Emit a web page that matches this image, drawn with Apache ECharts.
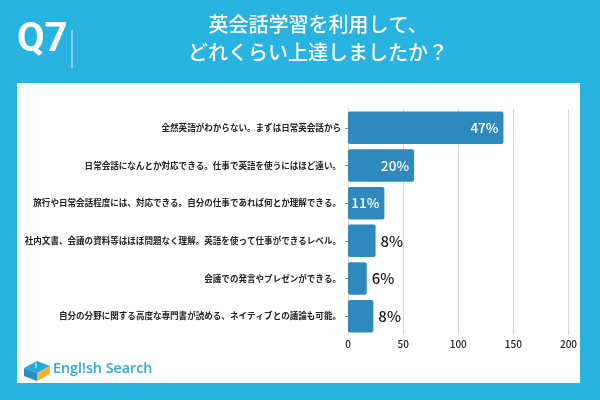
<!DOCTYPE html>
<html><head><meta charset="utf-8">
<script src="https://cdn.jsdelivr.net/npm/echarts@6/dist/echarts.min.js"></script>
<style>html,body{margin:0;padding:0;}#c{width:600px;height:400px;}</style>
</head><body><div id="c"></div>
<script>
const categories = [
  '全然英語がわからない。まずは日常英会話から',
  '日常会話になんとか対応できる。仕事で英語を使うにはほど遠い。',
  '旅行や日常会話程度には、対応できる。自分の仕事であれば何とか理解できる。',
  '社内文書、会議の資料等はほぼ問題なく理解。英語を使って仕事ができるレベル。',
  '会議での発言やプレゼンができる。',
  '自分の分野に関する高度な専門書が読める、ネイティブとの議論も可能。'
];
const values = [141, 60, 33, 25, 17, 23];
const pctLabels = ['47%', '20%', '11%', '8%', '6%', '8%'];
const insideFlags = [true, true, true, false, false, false];
const xTicks = [0, 50, 100, 150, 200];

const FONT = '"Noto Sans CJK JP", "Noto Sans", sans-serif';
const BG = '#28b3e1';
const BAR = '#2f89bd';

const chart = echarts.init(document.getElementById('c'), null, {renderer: 'canvas'});
const data = values.map((v, i) => ({
  value: v,
  label: insideFlags[i]
    ? {position: 'insideRight', color: '#fff', distance: 5, fontSize: 13.5}
    : {position: 'right', color: '#1a1a1a', distance: 5, fontSize: 15}
}));

chart.setOption({
  backgroundColor: BG,
  animation: false,
  graphic: [
    {type: 'rect', shape: {x: 17, y: 83, width: 563, height: 300}, style: {fill: '#fff'}, z: -10},
    {type: 'text', left: 17, top: 21, style: {text: 'Q7', fill: '#fff', font: 'bold 40px Roboto, "Noto Sans", sans-serif'}},
    {type: 'rect', shape: {x: 71.5, y: 30, width: 1, height: 38}, style: {fill: '#e8f6fc'}},
    {type: 'text', x: 318, y: 10, style: {text: '英会話学習を利用して、\nどれくらい上達しましたか？', fill: '#fff', align: 'center', font: '500 20px ' + FONT, lineHeight: 28}},
    // logo icon
    {type: 'polygon', shape: {points: [[24,368],[37,361],[50,366],[37,373]]}, style: {fill: '#2aa8dc'}},
    {type: 'polygon', shape: {points: [[24,368],[37,373],[37,381],[24,376]]}, style: {fill: '#2590c4'}},
    {type: 'polygon', shape: {points: [[37,373],[50,366],[50,374],[37,381]]}, style: {fill: '#f5b335'}},
    {type: 'text', x: 36, y: 363, style: {text: '!', fill: '#fff', font: 'bold 7px sans-serif', align: 'center'}},
    {type: 'text', x: 53, y: 362, style: {text: 'Engl!sh Search', fill: '#2aa8dc', font: '600 14.3px "Open Sans", Lato, sans-serif'}}
  ],
  grid: {left: 348, right: 31.5, top: 109, bottom: 65, containLabel: false},
  xAxis: {
    type: 'value', min: 0, max: 200, interval: 50,
    axisLine: {show: false}, axisTick: {show: false},
    axisLabel: {color: '#222', fontSize: 10, fontFamily: FONT, fontWeight: 500, margin: 4},
    splitLine: {show: true, lineStyle: {color: '#d6d6d6', width: 1}}
  },
  yAxis: {
    type: 'category', data: categories, inverse: true,
    axisLine: {show: true, lineStyle: {color: '#d6d6d6'}},
    axisTick: {show: true, length: 3, alignWithLabel: true, lineStyle: {color: '#888'}},
    axisLabel: {color: '#222', fontSize: 8.55, fontFamily: FONT, fontWeight: 'bold', margin: 7}
  },
  series: [{
    type: 'bar', data: data, barWidth: 32.5,
    itemStyle: {color: BAR, borderRadius: 2},
    label: {show: true, formatter: p => pctLabels[p.dataIndex], fontFamily: FONT, fontWeight: 500}
  }]
});
</script></body></html>
